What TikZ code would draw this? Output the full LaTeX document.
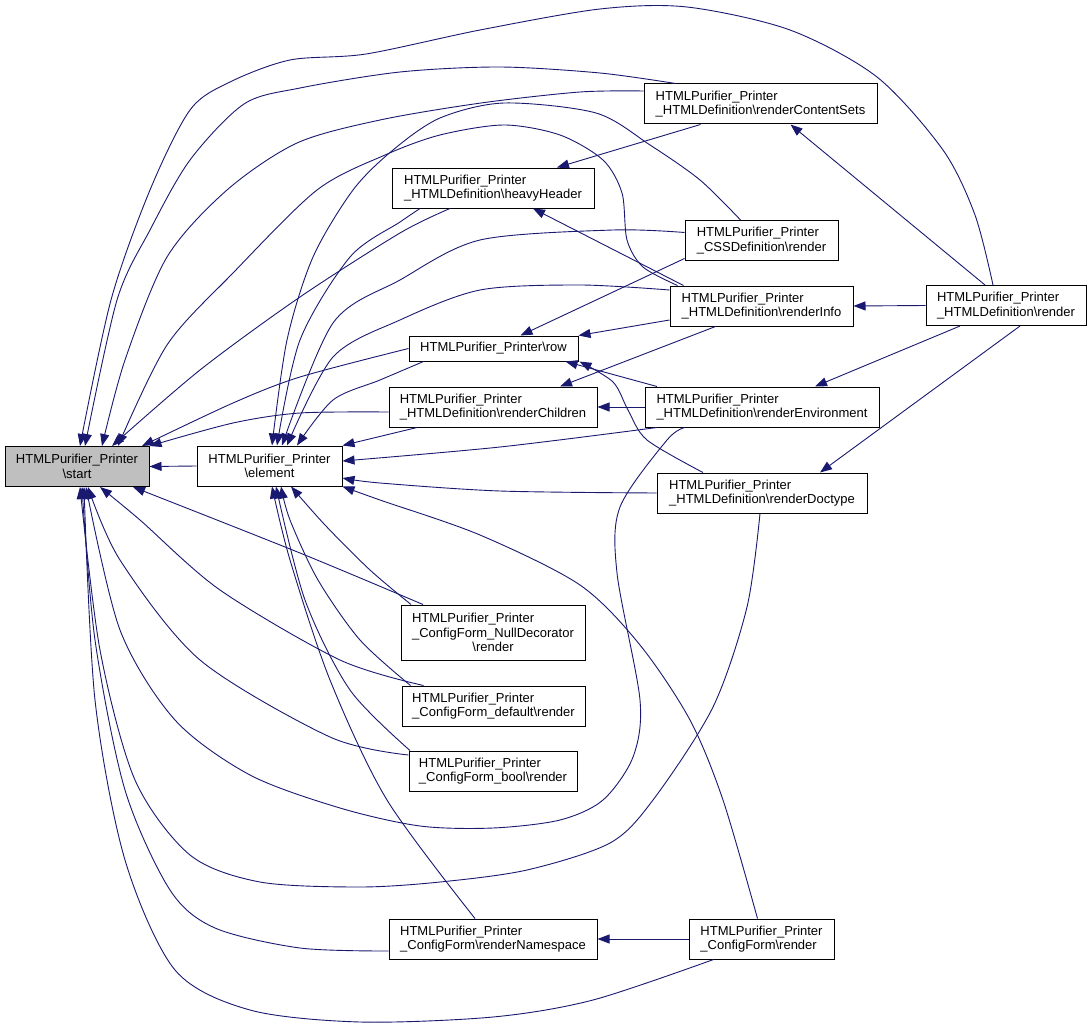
\documentclass[tikz,border=0pt]{standalone}
\usepackage{fontspec}
\setmainfont{Liberation Sans}
\usetikzlibrary{arrows.meta}
\definecolor{edgeblue}{RGB}{25,25,112}
\definecolor{startgray}{RGB}{191,191,191}

\tikzset{
  fn/.style={draw=black, line width=1pt, fill=white, inner sep=2pt,
    minimum height=40pt, font=\fontsize{13}{14.5}\selectfont, align=left},
  callto/.style={draw=edgeblue, line width=0.9pt, -{Triangle[length=12pt,width=9pt]}},
}

\begin{document}
\begin{tikzpicture}[x=1pt,y=-1pt]
\fill[white] (0,0) rectangle (1092,1030);
\useasboundingbox (0,0) rectangle (1092,1030);

% functions
\node[fn,fill=startgray,align=center,minimum width=144pt] (start) at (77,466.5) {HTMLPurifier\_Printer\\\textbackslash start};
\node[fn,align=center,minimum width=145pt] (element) at (269.5,466) {HTMLPurifier\_Printer\\\textbackslash element};
\node[fn,minimum width=202pt] (heavyHeader) at (493,188) {HTMLPurifier\_Printer\\\_HTMLDefinition\textbackslash heavyHeader};
\node[fn,minimum width=233pt] (contentSets) at (760.5,104) {HTMLPurifier\_Printer\\\_HTMLDefinition\textbackslash renderContentSets};
\node[fn,minimum width=153pt] (cssRender) at (761.5,240.5) {HTMLPurifier\_Printer\\\_CSSDefinition\textbackslash render};
\node[fn,minimum width=183pt] (renderInfo) at (761.5,306) {HTMLPurifier\_Printer\\\_HTMLDefinition\textbackslash renderInfo};
\node[fn,minimum width=160pt] (htmlRender) at (1006,305.5) {HTMLPurifier\_Printer\\\_HTMLDefinition\textbackslash render};
\node[fn,minimum width=169pt,minimum height=25pt] (row) at (493.5,348.5) {HTMLPurifier\_Printer\textbackslash row};
\node[fn,minimum width=208pt] (renderChildren) at (493,407) {HTMLPurifier\_Printer\\\_HTMLDefinition\textbackslash renderChildren};
\node[fn,minimum width=234pt] (renderEnv) at (762,407) {HTMLPurifier\_Printer\\\_HTMLDefinition\textbackslash renderEnvironment};
\node[fn,minimum width=210pt] (renderDoctype) at (762,493) {HTMLPurifier\_Printer\\\_HTMLDefinition\textbackslash renderDoctype};
\node[fn,align=center,minimum width=184pt,minimum height=55pt] (nullDec) at (493,632.5) {\rlap{HTMLPurifier\_Printer}\phantom{\_ConfigForm\_NullDecorator}\\\_ConfigForm\_NullDecorator\\\textbackslash render};
\node[fn,minimum width=183pt] (cfgDefault) at (493.5,706) {HTMLPurifier\_Printer\\\_ConfigForm\_default\textbackslash render};
\node[fn,minimum width=168pt] (cfgBool) at (493,771) {HTMLPurifier\_Printer\\\_ConfigForm\_bool\textbackslash render};
\node[fn,minimum width=208pt] (renderNamespace) at (493,939) {HTMLPurifier\_Printer\\\_ConfigForm\textbackslash renderNamespace};
\node[fn,minimum width=145pt] (cfgRender) at (761.5,939) {HTMLPurifier\_Printer\\\_ConfigForm\textbackslash render};

% calls of start
\draw[callto] (element.west) -- (start.east);
\draw[callto] plot[smooth] coordinates {([xshift=-13pt]htmlRender.north) (975,215) (943,150) (877,77) (790,30) (687,7) (600,9) (480,30) (366,54) (290,60) (230,82) (190,110) (150,190) (111,300) ([xshift=3pt]start.north)};
\draw[callto] plot[smooth] coordinates {([xshift=-85pt]contentSets.north) (600,73) (500,67) (400,72) (300,88) (244,104) (190,160) (150,230) (117,300) ([xshift=8pt]start.north)};
\draw[callto] plot[smooth] coordinates {([yshift=13pt]contentSets.west) (580,92) (481,103) (380,120) (297,143) (227,190) (167,257) (125,360) ([xshift=25pt]start.north)};
\draw[callto] plot[smooth] coordinates {([xshift=-84pt]renderInfo.north) (643,267) (627,240) (622,193) (603,160) (560,135) (504,125) (440,135) (385,155) (317,190) (233,273) (167,345) ([xshift=41pt]start.north)};
\draw[callto] plot[smooth] coordinates {([xshift=-43pt]heavyHeader.south) (400,233) (300,297) (200,370) ([xshift=35pt]start.north)};
\draw[callto] plot[smooth] coordinates {(row.west) (300,377) (233,403) ([xshift=65pt]start.north)};
\draw[callto] plot[smooth] coordinates {([yshift=-5pt]renderChildren.west) (300,413) (233,423) (start.north east)};
\draw[callto] plot[smooth] coordinates {([xshift=-70pt]nullDec.north) (300,553) ([xshift=56pt]start.south)};
\draw[callto] plot[smooth] coordinates {([xshift=-70pt]cfgDefault.north) (340,660) (220,590) (140,520) ([xshift=23pt]start.south)};
\draw[callto] plot[smooth] coordinates {([yshift=16pt]cfgBool.west) (330,737) (200,660) (120,560) ([xshift=11pt]start.south)};
\draw[callto] plot[smooth] coordinates {([yshift=-12pt]renderNamespace.west) (300,948) (215,928) (170,890) (125,790) (95,640) ([xshift=5pt]start.south)};
\draw[callto] plot[smooth] coordinates {([xshift=-48pt]cfgRender.south) (593,1000) (493,1017) (360,1022) (250,1010) (175,970) (125,860) (95,700) ([xshift=7pt]start.south)};
\draw[callto] plot[smooth] coordinates {([xshift=-77pt]renderEnv.south) (667,440) (620,507) (617,573) (640,700) (633,757) (603,800) (560,820) (493,828) (420,826) (340,808) (250,775) (175,720) (120,630) ([xshift=9pt]start.south)};
\draw[callto] plot[smooth] coordinates {([xshift=-2pt]renderDoctype.south) (747,607) (713,707) (653,800) (610,843) (527,870) (440,882) (360,887) (260,882) (190,855) (135,780) (100,650) ([xshift=3pt]start.south)};

% calls of element
\draw[callto] plot[smooth] coordinates {([xshift=-73pt]heavyHeader.south) (400,222) (350,257) (300,340) ([xshift=7.5pt]element.north)};
\draw[callto] plot[smooth] coordinates {([xshift=-21pt]cssRender.north) (700,180) (650,145) (596,113) (504,103) (440,118) (393,150) (353,190) (313,257) (287,340) ([xshift=2.5pt]element.north)};
\draw[callto] plot[smooth] coordinates {([yshift=8pt]cssRender.west) (613,230) (480,240) (400,280) (333,323) ([xshift=12.5pt]element.north)};
\draw[callto] plot[smooth] coordinates {([yshift=16pt]renderInfo.west) (580,285) (480,290) (400,320) (333,357) ([xshift=17.5pt]element.north)};
\draw[callto] plot[smooth] coordinates {([xshift=-70pt]row.south) (380,380) (333,400) ([xshift=27.5pt]element.north)};
\draw[callto] ([xshift=-76pt]renderChildren.south) -- (element.north east);
\draw[callto] plot[smooth] coordinates {([xshift=-105pt]renderEnv.south) (500,447) ([yshift=5pt]element.east)};
\draw[callto] plot[smooth] coordinates {(renderDoctype.west) (500,491) (380,483) ([yshift=-12pt]element.east)};
\draw[callto] plot[smooth] coordinates {([xshift=-4pt]cfgRender.north) (723,800) (690,720) (640,645) (580,585) (480,535) (380,500) (element.south east)};
\draw[callto] plot[smooth] coordinates {([xshift=-82pt]nullDec.north) (370,570) (325,525) ([xshift=21.5pt]element.south)};
\draw[callto] plot[smooth] coordinates {([xshift=-83pt]cfgDefault.north) (360,640) (318,580) (290,520) ([xshift=11.5pt]element.south)};
\draw[callto] plot[smooth] coordinates {([xshift=-83pt]cfgBool.north) (350,690) (305,600) ([xshift=6.5pt]element.south)};
\draw[callto] plot[smooth] coordinates {([xshift=-18pt]renderNamespace.north) (387,800) (330,680) (290,560) ([xshift=2.5pt]element.south)};

% the other calls
\draw[callto] ([xshift=-60pt]contentSets.south) -- ([xshift=64pt]heavyHeader.north);
\draw[callto] ([xshift=-78pt]renderInfo.north) -- ([xshift=40pt]heavyHeader.south);
\draw[callto] ([yshift=-18pt]cssRender.west) -- ([xshift=27pt]row.north);
\draw[callto] ([yshift=-14pt]renderInfo.west) -- (row.north east);
\draw[callto] ([xshift=-105pt]renderEnv.north) -- ([xshift=72pt]row.south);
\draw[callto] plot[smooth] coordinates {([xshift=-59pt]renderDoctype.north) (647,440) (628,410) (613,382) ([xshift=86pt]row.south)};
\draw[callto] ([xshift=-46pt]renderInfo.south) -- ([xshift=67pt]renderChildren.north);
\draw[callto] (renderEnv.west) -- (renderChildren.east);
\draw[callto] ([xshift=-21pt]htmlRender.north) -- ([xshift=30pt]contentSets.south);
\draw[callto] (htmlRender.west) -- (renderInfo.east);
\draw[callto] ([xshift=-46pt]htmlRender.south) -- ([xshift=53pt]renderEnv.north);
\draw[callto] ([xshift=14pt]htmlRender.south) -- ([xshift=58pt]renderDoctype.north);
\draw[callto] (cfgRender.west) -- (renderNamespace.east);
\end{tikzpicture}
\end{document}
